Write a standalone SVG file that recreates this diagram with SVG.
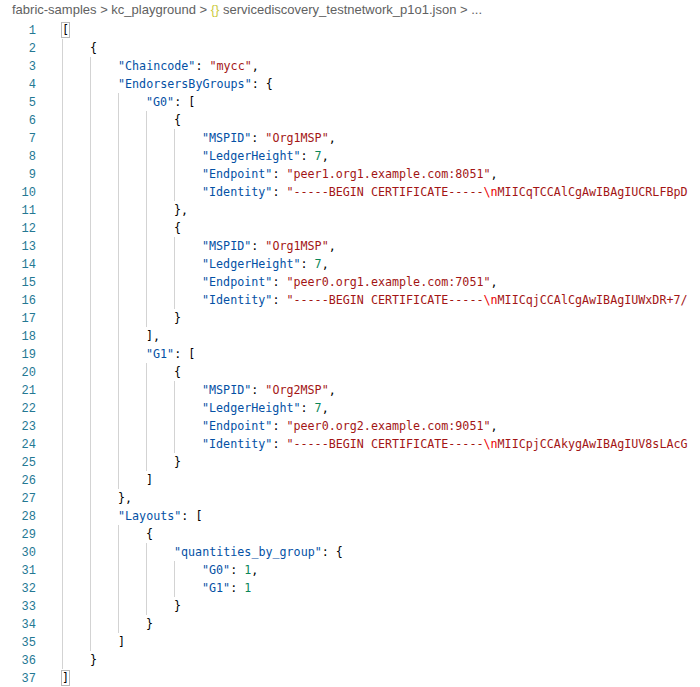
<svg xmlns="http://www.w3.org/2000/svg" width="700" height="687" viewBox="0 0 700 687">
<style>
.c{font-family:"DejaVu Sans Mono","Liberation Mono",monospace;font-size:11.7px;white-space:pre}
.ln{font-family:"Liberation Mono",monospace;font-size:12px;fill:#237893;text-anchor:end}
.k{fill:#0451a5}.s{fill:#a31515}.n{fill:#098658}.p{fill:#000}.e{fill:#ee0000}
.g{stroke:#d3d3d3;stroke-width:1}
.bc{font-family:"Liberation Sans","Open Sans",sans-serif;font-size:13px;fill:#616161}
</style>
<rect width="700" height="687" fill="#fff"/>
<g id="breadcrumb">
<text class="bc" x="12" y="14">fabric-samples &gt; kc_playground &gt; <tspan fill="#cbcb41">{}</tspan> servicediscovery_testnetwork_p1o1.json &gt; ...</text>
</g>
<g id="guides">
<line class="g" x1="62.5" y1="39" x2="62.5" y2="669"/>
<line class="g" x1="90.5" y1="57" x2="90.5" y2="651"/>
<line class="g" x1="118.5" y1="93" x2="118.5" y2="489"/>
<line class="g" x1="118.5" y1="525" x2="118.5" y2="633"/>
<line class="g" x1="146.5" y1="111" x2="146.5" y2="327"/>
<line class="g" x1="146.5" y1="363" x2="146.5" y2="471"/>
<line class="g" x1="146.5" y1="543" x2="146.5" y2="615"/>
<line class="g" x1="174.5" y1="129" x2="174.5" y2="201"/>
<line class="g" x1="174.5" y1="237" x2="174.5" y2="309"/>
<line class="g" x1="174.5" y1="381" x2="174.5" y2="453"/>
<line class="g" x1="174.5" y1="561" x2="174.5" y2="597"/>
<rect x="61.5" y="22.5" width="8" height="15" fill="none" stroke="#b9b9b9"/>
<rect x="61.5" y="670.5" width="8" height="15" fill="none" stroke="#b9b9b9"/>
</g>
<g id="linenumbers">
<text class="ln" x="36" y="34">1</text><text class="ln" x="36" y="52">2</text><text class="ln" x="36" y="70">3</text><text class="ln" x="36" y="88">4</text><text class="ln" x="36" y="106">5</text><text class="ln" x="36" y="124">6</text><text class="ln" x="36" y="142">7</text><text class="ln" x="36" y="160">8</text><text class="ln" x="36" y="178">9</text><text class="ln" x="36" y="196">10</text><text class="ln" x="36" y="214">11</text><text class="ln" x="36" y="232">12</text><text class="ln" x="36" y="250">13</text><text class="ln" x="36" y="268">14</text><text class="ln" x="36" y="286">15</text><text class="ln" x="36" y="304">16</text><text class="ln" x="36" y="322">17</text><text class="ln" x="36" y="340">18</text><text class="ln" x="36" y="358">19</text><text class="ln" x="36" y="376">20</text><text class="ln" x="36" y="394">21</text><text class="ln" x="36" y="412">22</text><text class="ln" x="36" y="430">23</text><text class="ln" x="36" y="448">24</text><text class="ln" x="36" y="466">25</text><text class="ln" x="36" y="484">26</text><text class="ln" x="36" y="502">27</text><text class="ln" x="36" y="520">28</text><text class="ln" x="36" y="538">29</text><text class="ln" x="36" y="556">30</text><text class="ln" x="36" y="574">31</text><text class="ln" x="36" y="592">32</text><text class="ln" x="36" y="610">33</text><text class="ln" x="36" y="628">34</text><text class="ln" x="36" y="646">35</text><text class="ln" x="36" y="664">36</text><text class="ln" x="36" y="682" fill="#0b216f">37</text>
</g>
<g id="code" class="c">
<text x="62" y="34" class="p">[</text>
<text x="90" y="52" class="p">{</text>
<text x="118" y="70"><tspan class="k">"Chaincode"</tspan><tspan class="p">: </tspan><tspan class="s">"mycc"</tspan><tspan class="p">,</tspan></text>
<text x="118" y="88"><tspan class="k">"EndorsersByGroups"</tspan><tspan class="p">: {</tspan></text>
<text x="146" y="106"><tspan class="k">"G0"</tspan><tspan class="p">: [</tspan></text>
<text x="174" y="124" class="p">{</text>
<text x="202" y="142"><tspan class="k">"MSPID"</tspan><tspan class="p">: </tspan><tspan class="s">"Org1MSP"</tspan><tspan class="p">,</tspan></text>
<text x="202" y="160"><tspan class="k">"LedgerHeight"</tspan><tspan class="p">: </tspan><tspan class="n">7</tspan><tspan class="p">,</tspan></text>
<text x="202" y="178"><tspan class="k">"Endpoint"</tspan><tspan class="p">: </tspan><tspan class="s">"peer1.org1.example.com:8051"</tspan><tspan class="p">,</tspan></text>
<text x="202" y="196"><tspan class="k">"Identity"</tspan><tspan class="p">: </tspan><tspan class="s">"-----BEGIN CERTIFICATE-----</tspan><tspan class="e">\n</tspan><tspan class="s">MIICqTCCAlCgAwIBAgIUCRLFBpD</tspan></text>
<text x="174" y="214" class="p">},</text>
<text x="174" y="232" class="p">{</text>
<text x="202" y="250"><tspan class="k">"MSPID"</tspan><tspan class="p">: </tspan><tspan class="s">"Org1MSP"</tspan><tspan class="p">,</tspan></text>
<text x="202" y="268"><tspan class="k">"LedgerHeight"</tspan><tspan class="p">: </tspan><tspan class="n">7</tspan><tspan class="p">,</tspan></text>
<text x="202" y="286"><tspan class="k">"Endpoint"</tspan><tspan class="p">: </tspan><tspan class="s">"peer0.org1.example.com:7051"</tspan><tspan class="p">,</tspan></text>
<text x="202" y="304"><tspan class="k">"Identity"</tspan><tspan class="p">: </tspan><tspan class="s">"-----BEGIN CERTIFICATE-----</tspan><tspan class="e">\n</tspan><tspan class="s">MIICqjCCAlCgAwIBAgIUWxDR+7/</tspan></text>
<text x="174" y="322" class="p">}</text>
<text x="146" y="340" class="p">],</text>
<text x="146" y="358"><tspan class="k">"G1"</tspan><tspan class="p">: [</tspan></text>
<text x="174" y="376" class="p">{</text>
<text x="202" y="394"><tspan class="k">"MSPID"</tspan><tspan class="p">: </tspan><tspan class="s">"Org2MSP"</tspan><tspan class="p">,</tspan></text>
<text x="202" y="412"><tspan class="k">"LedgerHeight"</tspan><tspan class="p">: </tspan><tspan class="n">7</tspan><tspan class="p">,</tspan></text>
<text x="202" y="430"><tspan class="k">"Endpoint"</tspan><tspan class="p">: </tspan><tspan class="s">"peer0.org2.example.com:9051"</tspan><tspan class="p">,</tspan></text>
<text x="202" y="448"><tspan class="k">"Identity"</tspan><tspan class="p">: </tspan><tspan class="s">"-----BEGIN CERTIFICATE-----</tspan><tspan class="e">\n</tspan><tspan class="s">MIICpjCCAkygAwIBAgIUV8sLAcG</tspan></text>
<text x="174" y="466" class="p">}</text>
<text x="146" y="484" class="p">]</text>
<text x="118" y="502" class="p">},</text>
<text x="118" y="520"><tspan class="k">"Layouts"</tspan><tspan class="p">: [</tspan></text>
<text x="146" y="538" class="p">{</text>
<text x="174" y="556"><tspan class="k">"quantities_by_group"</tspan><tspan class="p">: {</tspan></text>
<text x="202" y="574"><tspan class="k">"G0"</tspan><tspan class="p">: </tspan><tspan class="n">1</tspan><tspan class="p">,</tspan></text>
<text x="202" y="592"><tspan class="k">"G1"</tspan><tspan class="p">: </tspan><tspan class="n">1</tspan></text>
<text x="174" y="610" class="p">}</text>
<text x="146" y="628" class="p">}</text>
<text x="118" y="646" class="p">]</text>
<text x="90" y="664" class="p">}</text>
<text x="62" y="682" class="p">]</text>
</g>
</svg>
